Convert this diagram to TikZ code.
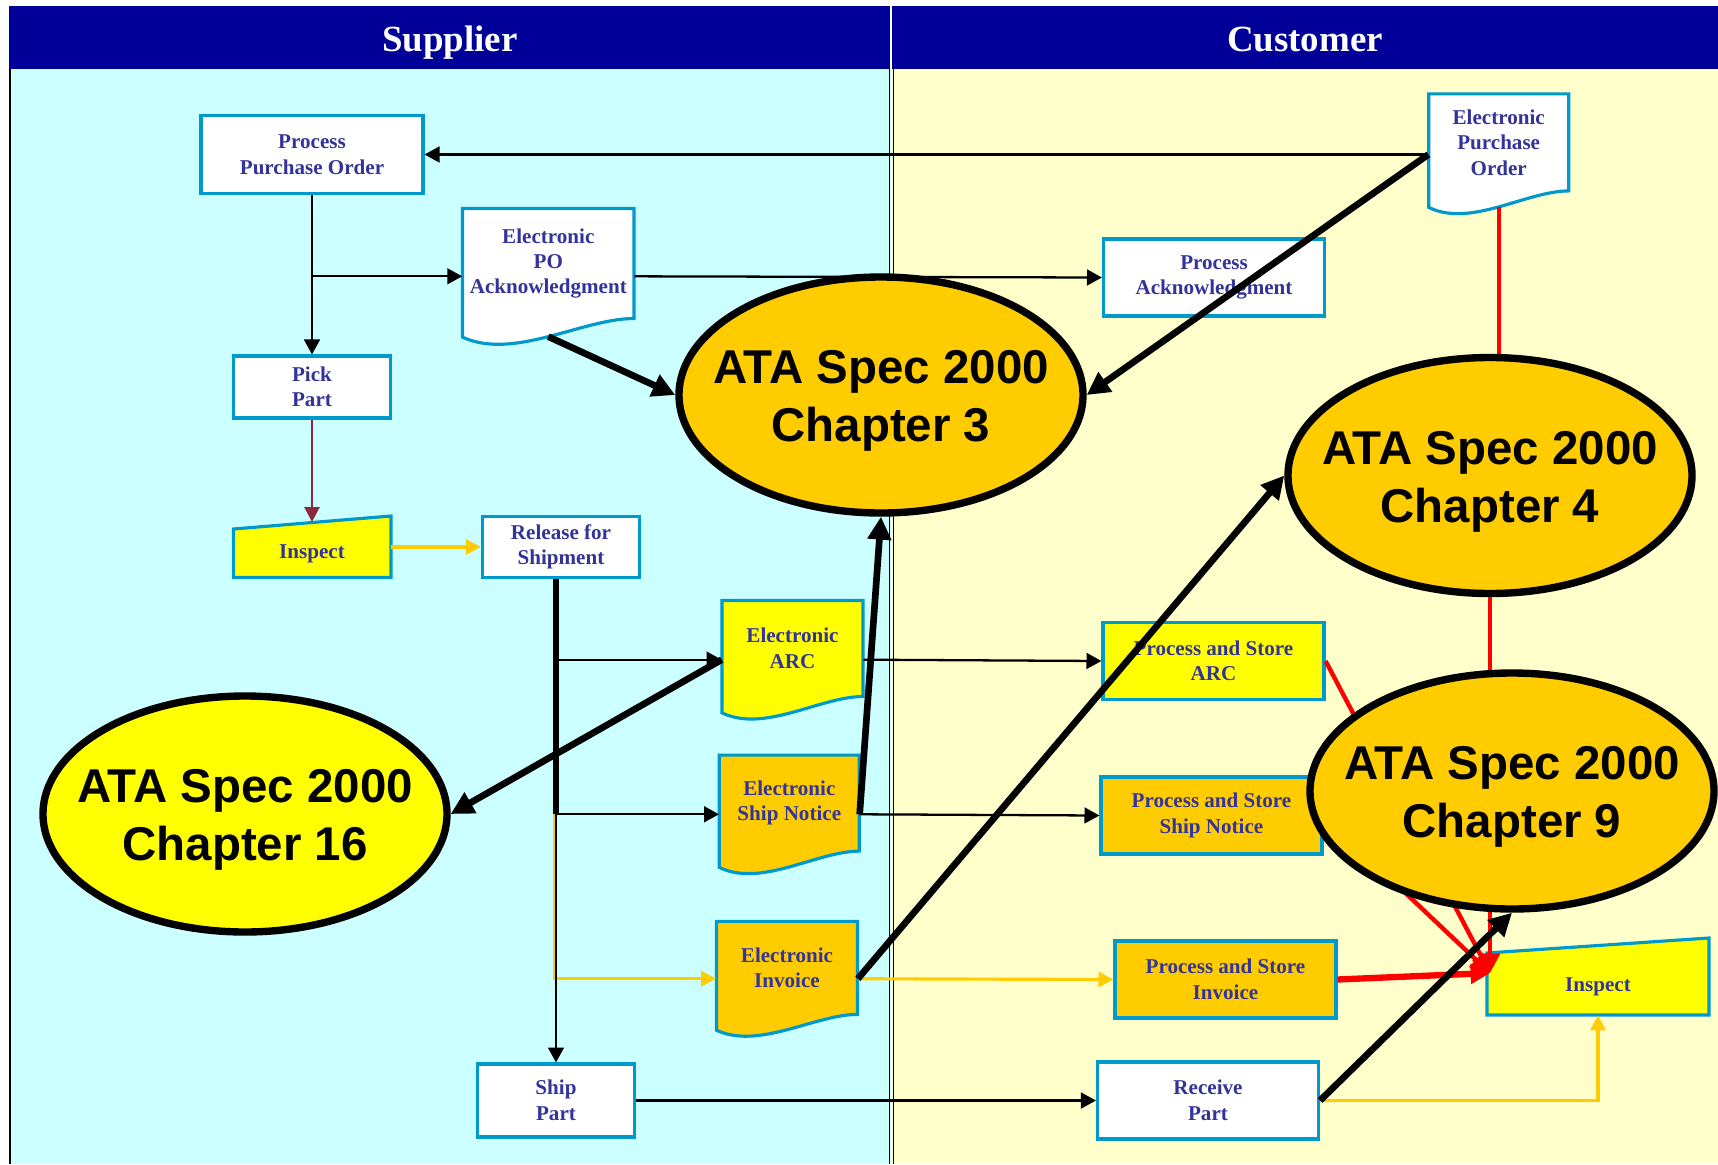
\documentclass[tikz,border=0pt]{standalone}
\usepackage{fontspec}
\setmainfont{Liberation Serif}
\newfontfamily\atafont{Liberation Sans}
\usetikzlibrary{arrows.meta,shapes.geometric,calc}

\definecolor{hdrblue}{RGB}{0,0,153}
\definecolor{supcyan}{RGB}{204,255,255}
\definecolor{cusyellow}{RGB}{255,255,204}
\definecolor{boxblue}{RGB}{0,153,204}
\definecolor{txtblue}{RGB}{51,51,153}
\definecolor{ataorange}{RGB}{255,204,0}
\definecolor{atayellow}{RGB}{255,255,0}
\definecolor{pickred}{RGB}{140,40,60}

\tikzset{
  procbox/.style={rectangle, draw=boxblue, line width=1.8pt, align=center, inner sep=0pt,
    text=txtblue, font=\fontsize{12}{14.5}\selectfont\bfseries},
  doctext/.style={align=center, inner sep=0pt, text=txtblue, font=\fontsize{12}{14.5}\selectfont\bfseries},
  boxline/.style={draw=boxblue, line width=1.8pt},
  ataoval/.style={ellipse, draw=black, line width=4.2pt, inner sep=0pt,
    minimum width=404*0.02cm, minimum height=236*0.02cm},
  atatext/.style={align=center, yshift=-0.12cm, font=\atafont\bfseries\fontsize{27}{33}\selectfont},
  lanetitle/.style={anchor=base, text=white, font=\fontsize{21}{25}\selectfont\bfseries},
  thinarrow/.style={draw=black, line width=1.3pt, -{Triangle[length=8.5pt,width=9pt]}},
  thickarrow/.style={draw=black, line width=3.8pt, -{Triangle[length=13pt,width=13pt]}},
  goldarrow/.style={draw=ataorange, line width=1.8pt, -{Triangle[length=8.5pt,width=8.5pt]}},
  redarrow/.style={draw=red, line width=2.5pt, -{Triangle[length=11pt,width=11pt]}},
}

% document sheet with wavy bottom: name, fill, cx, cy, w, h, text
\newcommand{\docsheet}[7]{%
  \draw[boxline, fill=#2] ({#3-#5/2},{#4-#6/2}) -- ({#3+#5/2},{#4-#6/2}) -- ({#3+#5/2},{#4+#6/2})
    .. controls ({#3+0.2*#5},{#4+#6/2}) and ({#3-0.2*#5},{#4+0.883*#6}) .. ({#3-#5/2},{#4+0.67*#6}) -- cycle;
  \node[doctext] at (#3,#4) {#7};
  \node[inner sep=0pt, minimum width=#5*0.02cm, minimum height=1.233*#6*0.02cm] (#1) at (#3,{#4+0.1165*#6}) {};
  \coordinate (#1-wave) at (#3,{#4+0.665*#6});
}

\begin{document}
\begin{tikzpicture}[x=0.02cm, y=-0.02cm]
\useasboundingbox (0,0) rectangle (1718,1164);

% bandeau
\fill[hdrblue] (9,5.5) rectangle (1718,68.5);
\draw[white, line width=0.6pt] (891,5.5) -- (891,68.5);
\node[lanetitle] (suptitle) at (450,51.5) {Supplier};
\node[lanetitle] (custitle) at (1305,51.5) {Customer};

% couloirs
\fill[supcyan] (9,68.5) rectangle (891,1164);
\fill[cusyellow] (891,68.5) rectangle (1718,1164);
\draw[line width=0.6pt] (10,68.5) -- (10,1164);
\draw[line width=0.8pt] (889.5,68.5) -- (889.5,1164) (893.5,68.5) -- (893.5,1164);

% boites
\foreach \nm/\x/\y/\w/\h/\col/\txt in {
    ppo/312/154.5/222/78/white/{Process\\Purchase Order},
    pick/312/387/157/62/white/{Pick\\Part},
    release/561/547/157/61/white/{Release for\\Shipment},
    ship/556/1100.5/157/73/white/{Ship\\Part},
    psack/1214/277.5/221/77/white/{Process\\Acknowledgment},
    psarc/1213.5/661/221/77/atayellow/{Process and Store\\ARC},
    pssn/1211.5/815.5/221/77/ataorange/{Process and Store\\Ship Notice},
    psinv/1225.5/979.5/221/77/ataorange/{Process and Store\\Invoice},
    recv/1208/1100.5/221/77/white/{Receive\\Part}}
    \node[procbox, fill=\col, minimum width=\w*0.02cm, minimum height=\h*0.02cm] (\nm) at (\x,\y) {\txt};

\docsheet{epoack}{white}{548.3}{263.5}{171.5}{110}{Electronic\\PO\\Acknowledgment}
\docsheet{epo}{white}{1498.7}{142.4}{140}{97}{Electronic\\Purchase\\Order}
\docsheet{earc}{atayellow}{792.5}{648.5}{141}{96}{Electronic\\ARC}
\docsheet{esn}{ataorange}{789.3}{803.1}{140}{96}{Electronic\\Ship Notice}
\docsheet{einv}{ataorange}{787}{967.9}{141}{93}{Electronic\\Invoice}

% inspect
\draw[boxline, fill=atayellow] (233.5,529) -- (391,516) -- (391,577.5) -- (233.5,577.5) -- cycle;
\node[doctext, minimum width=157*0.02cm, minimum height=47*0.02cm] (insp) at (312,554) {Inspect};
\coordinate (insptop) at (312,522);
\draw[boxline, fill=atayellow] (1487,953) -- (1709,938) -- (1709,1015) -- (1487,1015) -- cycle;
\node[doctext, minimum width=222*0.02cm, minimum height=57*0.02cm] (inspc) at (1598,986.5) {Inspect};
\coordinate (inspin) at (1490,973);

% flux fournisseur
\draw[thinarrow] (ppo) -- (pick);
\draw[thinarrow] (ppo.south |- epoack.west) -- (epoack.west);
\draw[pickred, line width=1.6pt, -{Triangle[length=8.5pt,width=8.5pt]}] (pick) -- (insptop);
\draw[goldarrow] (insp.east |- release.west) -- (release.west);
\draw[goldarrow] ($(release.south -| ship.north)+(-1.5,0)$) |- (einv.west);
\draw[thinarrow] (release.south -| ship.north) -- (ship.north);
\draw[black, line width=3.2pt] (release.south -| ship.north) -- (esn.west -| ship.north);
\draw[thinarrow] (earc.west -| ship.north) -- (earc.west);
\draw[thinarrow] (esn.west -| ship.north) -- (esn.west);

% flux vers client
\draw[thinarrow] (ppo.east -| epo.west) -- (ppo.east);
\draw[thinarrow] (epoack.east) -- (psack.west);
\draw[thinarrow] (earc.east) -- (psarc.west);
\draw[thinarrow] (esn.east) -- (pssn.west);
\draw[goldarrow] (einv.east) -- (psinv.west);
\draw[thinarrow] (ship.east) -- (recv.west);
\draw[goldarrow] (recv.east) -| (inspc.south);

% chapitre 4 et liens rouges
\node[ataoval, fill=ataorange] (ch4) at (1490,475.5) {};
\draw[red, line width=2.5pt] (epo-wave) -- (epo-wave |- ch4.north);
\draw[redarrow] (ch4.south) -- (inspin);
\draw[redarrow] (psarc.east) -- (inspin);
\draw[redarrow] (pssn.east) -- (inspin);
\draw[redarrow, line width=3.6pt] (psinv.east) -- (inspin);

% ellipses ATA
\node[ataoval, fill=ataorange] (ch3) at (881,395) {};
\node[ataoval, fill=ataorange] (ch9) at (1512,791) {};
\node[ataoval, fill=atayellow] (ch16) at (245,814) {};
\node[atatext] (ch3txt) at (ch3) {ATA Spec 2000\\Chapter 3};
\node[atatext] (ch4txt) at (ch4) {ATA Spec 2000\\Chapter 4};
\node[atatext] (ch9txt) at (ch9) {ATA Spec 2000\\Chapter 9};
\node[atatext] (ch16txt) at (ch16) {ATA Spec 2000\\Chapter 16};

% fleches epaisses
\draw[thickarrow] (epoack-wave) -- (ch3.west);
\draw[thickarrow] (ppo.east -| epo.west) -- (ch3.east);
\draw[thickarrow] (earc.west) -- (ch16.east);
\draw[thickarrow] (esn.east) -- (ch3.south);
\draw[thickarrow] (einv.east) -- (ch4.west);
\draw[thickarrow] (recv.east) -- (ch9.south);

\end{tikzpicture}
\end{document}
